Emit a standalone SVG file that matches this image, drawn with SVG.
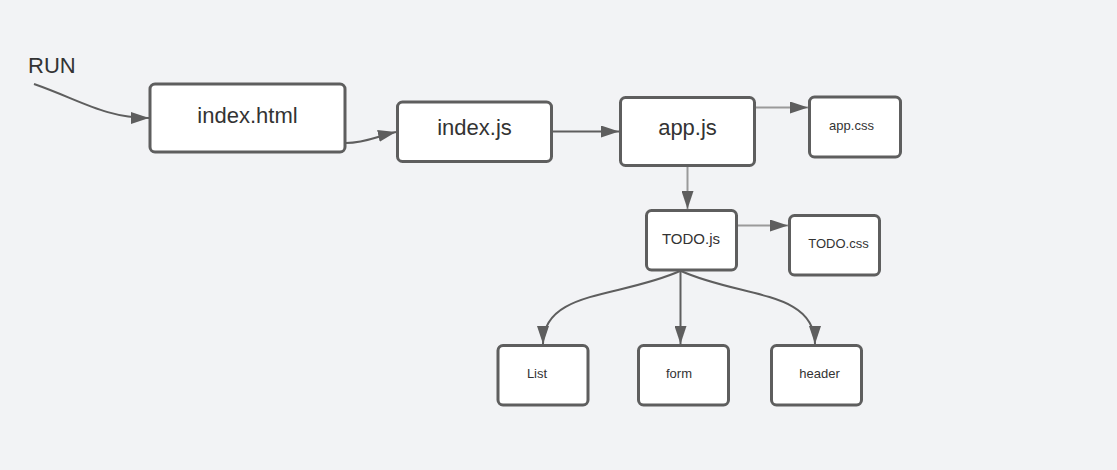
<svg xmlns="http://www.w3.org/2000/svg" width="1117" height="470" viewBox="0 0 1117 470">
<style>
.box{fill:#ffffff;stroke:#5e5e5e;stroke-width:3}
.t{font-family:"Liberation Sans",Arial,sans-serif;fill:#333333;text-anchor:middle}
.big{font-size:22px}
.mid{font-size:15px}
.sm{font-size:13px}
.c{fill:none;stroke:#5e5e5e;stroke-width:2}
.cl{fill:none;stroke:#9a9a9a;stroke-width:2}
</style>
<defs>
<marker id="ah" markerUnits="userSpaceOnUse" markerWidth="18" markerHeight="12" refX="18" refY="6" orient="auto">
<path d="M0,0 L18,6 L0,12 z" fill="#5e5e5e"/>
</marker>
</defs>
<rect width="1117" height="470" fill="#f2f3f5"/>
<text class="t big" x="28" y="72.5" text-anchor="start" style="text-anchor:start">RUN</text>
<g id="connectors">
<path class="c" d="M34,84 C80,100 105,118 149,118" marker-end="url(#ah)"/>
<path class="c" d="M346,143 C365,143 378,136 396,132" marker-end="url(#ah)"/>
<path class="c" d="M552,131.5 L619,131.5" marker-end="url(#ah)"/>
<path class="cl" d="M756,107.5 L808,107.5" marker-end="url(#ah)"/>
<path class="cl" d="M687.5,166 L687.5,209" marker-end="url(#ah)"/>
<path class="cl" d="M737,225.5 L788,225.5" marker-end="url(#ah)"/>
<path class="c" d="M680,271 C620,298 543,290 543,344" marker-end="url(#ah)"/>
<path class="c" d="M680.5,271 L680.5,344" marker-end="url(#ah)"/>
<path class="c" d="M681,271 C741,298 815,290 815,344" marker-end="url(#ah)"/>
</g>
<g id="index-html">
<rect class="box" x="150" y="84" width="195" height="68" rx="5"/>
<text class="t big" x="247.5" y="122.5">index.html</text>
</g>
<g id="index-js">
<rect class="box" x="397.5" y="102" width="154" height="59.5" rx="5"/>
<text class="t big" x="474.5" y="135">index.js</text>
</g>
<g id="app-js">
<rect class="box" x="620.5" y="97.5" width="134" height="68" rx="5"/>
<text class="t big" x="687.5" y="135">app.js</text>
</g>
<g id="app-css">
<rect class="box" x="809.5" y="97" width="91" height="60" rx="5"/>
<text class="t sm" x="851.5" y="129.5">app.css</text>
</g>
<g id="todo-js">
<rect class="box" x="646.5" y="210.5" width="90" height="59.5" rx="5"/>
<text class="t mid" x="691" y="244">TODO.js</text>
</g>
<g id="todo-css">
<rect class="box" x="789.5" y="215.5" width="90" height="59.5" rx="5"/>
<text class="t sm" x="838.5" y="248">TODO.css</text>
</g>
<g id="list">
<rect class="box" x="498" y="345.5" width="90" height="59.5" rx="5"/>
<text class="t sm" x="537" y="378">List</text>
</g>
<g id="form">
<rect class="box" x="638.5" y="345.5" width="90" height="59.5" rx="5"/>
<text class="t sm" x="679" y="378">form</text>
</g>
<g id="header">
<rect class="box" x="771.5" y="345.5" width="90" height="59.5" rx="5"/>
<text class="t sm" x="819.5" y="378">header</text>
</g>
</svg>
